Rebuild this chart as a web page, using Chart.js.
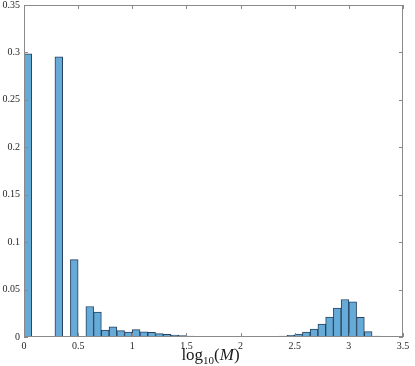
<!DOCTYPE html>
<html>
<head>
<meta charset="utf-8">
<script src="https://cdn.jsdelivr.net/npm/chart.js@4.4.1/dist/chart.umd.min.js"></script>
<style>
  html, body { margin: 0; padding: 0; background: #fff; }
  #wrap { position: relative; width: 415px; height: 366px; }
</style>
</head>
<body>
<div id="wrap"><canvas id="hist" width="415" height="366"></canvas></div>
<script>
// histogram of log10(M), 49 bins of width 1/14 between 0 and 3.5
const binCount = 49;
const binWidth = 1 / 14;
const probability = [
  0.2985, 0, 0, 0, 0.2954, 0, 0.0815, 0, 0.0322, 0.0262,
  0.0074, 0.0108, 0.0067, 0.0052, 0.0078, 0.0055, 0.0048, 0.0035, 0.0027, 0.0020,
  0.0015, 0.0011, 0.0008, 0.0006, 0.0005, 0.0004, 0.0003, 0.0003, 0.0002, 0.0002,
  0.0003, 0.0004, 0.0007, 0.0011, 0.0018, 0.0032, 0.0053, 0.0084, 0.0137, 0.0211,
  0.0306, 0.0395, 0.0372, 0.0207, 0.0057, 0.0011, 0.0004, 0.0002, 0.0001
];
const xTicks = [0, 0.5, 1, 1.5, 2, 2.5, 3, 3.5];
const yTicks = [0, 0.05, 0.1, 0.15, 0.2, 0.25, 0.3, 0.35];

const points = probability.map((p, i) => ({ x: (i + 0.5) * binWidth, y: p }));

const serif = '"Liberation Serif", "Times New Roman", serif';
const frameColor = '#8a8a8a';

// matlab-ish box: frame on all sides, ticks pointing inward, axis label with subscript
const boxPlugin = {
  id: 'box',
  afterDraw(chart) {
    const { ctx, chartArea: a, scales } = chart;
    ctx.save();
    ctx.strokeStyle = frameColor;
    ctx.lineWidth = 1;
    ctx.strokeRect(a.left + 0.5, a.top + 0.5, a.right - a.left - 1, a.bottom - a.top - 1);
    ctx.beginPath();
    xTicks.forEach(v => {
      const x = Math.round(scales.x.getPixelForValue(v)) + 0.5;
      ctx.moveTo(x, a.bottom); ctx.lineTo(x, a.bottom - 4);
      ctx.moveTo(x, a.top); ctx.lineTo(x, a.top + 4);
    });
    yTicks.forEach(v => {
      const y = Math.round(scales.y.getPixelForValue(v)) + 0.5;
      ctx.moveTo(a.left, y); ctx.lineTo(a.left + 4, y);
      ctx.moveTo(a.right, y); ctx.lineTo(a.right - 4, y);
    });
    ctx.stroke();

    // x label: log10(M)
    ctx.fillStyle = '#1a1a1a';
    ctx.textBaseline = 'alphabetic';
    ctx.textAlign = 'left';
    const big = '17px ' + serif, small = '11px ' + serif, ital = 'italic 17px ' + serif;
    const parts = [['log', big, 0], ['10', small, 4], ['(', big, 0], ['M', ital, 0], [')', big, 0]];
    let w = 0;
    parts.forEach(p => { ctx.font = p[1]; w += ctx.measureText(p[0]).width; });
    let x = (a.left + a.right) / 2 - 3 - w / 2;
    const base = 360;
    parts.forEach(p => {
      ctx.font = p[1];
      ctx.fillText(p[0], x, base + p[2]);
      x += ctx.measureText(p[0]).width;
    });
    ctx.restore();
  }
};

new Chart(document.getElementById('hist'), {
  type: 'bar',
  data: {
    datasets: [{
      data: points,
      backgroundColor: 'rgb(102,170,215)',
      borderColor: 'rgb(38,66,94)',
      borderWidth: 1,
      borderSkipped: false,
      barPercentage: 1,
      categoryPercentage: 1
    }]
  },
  options: {
    responsive: false,
    animation: false,
    layout: { padding: { top: 5, right: 12, left: 0, bottom: 0 } },
    scales: {
      x: {
        type: 'linear',
        min: 0,
        max: 3.5,
        offset: false,
        afterFit: s => { s.height = 29; s.paddingLeft = 0; s.paddingRight = 0; },
        afterBuildTicks: s => { s.ticks = xTicks.map(v => ({ value: v })); },
        grid: { display: false, drawTicks: false },
        border: { display: false },
        ticks: {
          padding: 3,
          maxRotation: 0,
          color: '#262626',
          font: { family: serif, size: 10 },
          callback: v => String(v)
        }
      },
      y: {
        min: 0,
        max: 0.35,
        afterFit: s => { s.width = 24; s.paddingTop = 0; s.paddingBottom = 0; },
        afterBuildTicks: s => { s.ticks = yTicks.map(v => ({ value: v })); },
        grid: { display: false, drawTicks: false },
        border: { display: false },
        ticks: {
          padding: 4,
          color: '#262626',
          font: { family: serif, size: 10 },
          callback: v => String(+v.toFixed(2))
        }
      }
    },
    plugins: {
      legend: { display: false },
      tooltip: { enabled: false }
    }
  },
  plugins: [boxPlugin]
});
</script>
</body>
</html>
